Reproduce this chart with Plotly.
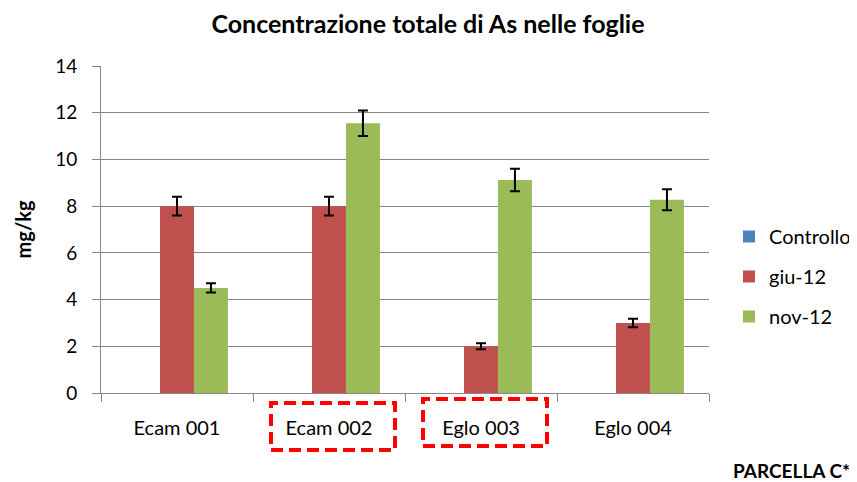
import plotly.graph_objects as go

categories = ["Ecam 001", "Ecam 002", "Eglo 003", "Eglo 004"]
series_names = ["Controllo", "giu-12", "nov-12"]
controllo = [0, 0, 0, 0]
controllo_err = [0, 0, 0, 0]
giu12 = [8.0, 8.0, 2.0, 3.0]
giu12_err = [0.4, 0.4, 0.13, 0.18]
nov12 = [4.5, 11.55, 9.12, 8.27]
nov12_err = [0.2, 0.55, 0.48, 0.45]
y_ticks = [0, 2, 4, 6, 8, 10, 12, 14]
highlighted = ["Ecam 002", "Eglo 003"]

colors = ["#4F81BD", "#C0504D", "#9BBB59"]
FONT = "Lato"

OFF = 8  # page body margin offset
W, H = 857 - OFF, 482 - OFF
# target plot area in window pixels: x 101..709, y 66..393
L, T = 101 - OFF, 66 - OFF
R, B = 857 - 709, 482 - 393
pw, ph = W - L - R, H - T - B


def px_x(px):
    return (px - OFF - L) / pw


def px_y(py):
    return (H - B - (py - OFF)) / ph


fig = go.Figure()
for i, (name, vals, errs) in enumerate(zip(series_names, [controllo, giu12, nov12],
                                             [controllo_err, giu12_err, nov12_err])):
    fig.add_trace(go.Bar(
        x=categories, y=vals, name=name, legendgroup=name,
        marker=dict(color=colors[i], line=dict(width=0)),
        error_y=dict(type="data", array=errs, visible=any(e > 0 for e in errs),
                     color="black", thickness=2, width=5),
    ))

# red dashed highlight boxes (window pixel geometry)
boxes = {"Ecam 002": (271, 395, 403, 450), "Eglo 003": (423, 547, 399, 446)}
for cat in highlighted:
    x0, x1, y0, y1 = boxes[cat]
    fig.add_shape(type="rect", xref="paper", yref="paper",
                  x0=px_x(x0), x1=px_x(x1), y0=px_y(y1), y1=px_y(y0),
                  line=dict(color="#FF0000", width=4, dash="12px,6px"),
                  fillcolor="rgba(0,0,0,0)")

fig.add_annotation(text="<b>PARCELLA C*</b>", xref="paper", yref="paper",
                   x=px_x(852), y=px_y(471),
                   xanchor="right", yanchor="middle", showarrow=False,
                   font=dict(family=FONT, size=19, color="black"))

fig.update_layout(
    width=W, height=H,
    margin=dict(l=L, r=R, t=T, b=B, autoexpand=False),
    paper_bgcolor="white", plot_bgcolor="white",
    barmode="group", bargap=0.33, bargroupgap=0,
    title=dict(text="<b>Concentrazione totale di As nelle foglie</b>",
               x=(428 - OFF) / W, xanchor="center",
               y=1 - (24 - OFF) / H, yanchor="middle", yref="container",
               font=dict(family=FONT, size=25, color="black")),
    font=dict(family=FONT, size=20, color="black"),
    legend=dict(x=px_x(729), y=px_y(217), xanchor="left", yanchor="top",
                traceorder="grouped", tracegroupgap=11, itemwidth=30,
                font=dict(family=FONT, size=20, color="black"),
                bgcolor="rgba(0,0,0,0)"),
    xaxis=dict(type="category", showgrid=False, showline=True, linecolor="#868686",
               linewidth=1, ticks="outside", tickson="boundaries", ticklen=8,
               tickcolor="#868686", ticklabelstandoff=17,
               tickfont=dict(family=FONT, size=20, color="black")),
    yaxis=dict(range=[0, 14], tickvals=y_ticks, showgrid=True, gridcolor="#868686",
               gridwidth=1, showline=True, linecolor="#868686", linewidth=1,
               ticks="outside", ticklen=8, tickcolor="#868686", ticklabelstandoff=11,
               zeroline=False,
               tickfont=dict(family=FONT, size=19, color="black"),
               title=dict(text="<b>mg/kg</b>", standoff=18,
                          font=dict(family=FONT, size=20, color="black"))),
)

fig.write_html("out.html")
